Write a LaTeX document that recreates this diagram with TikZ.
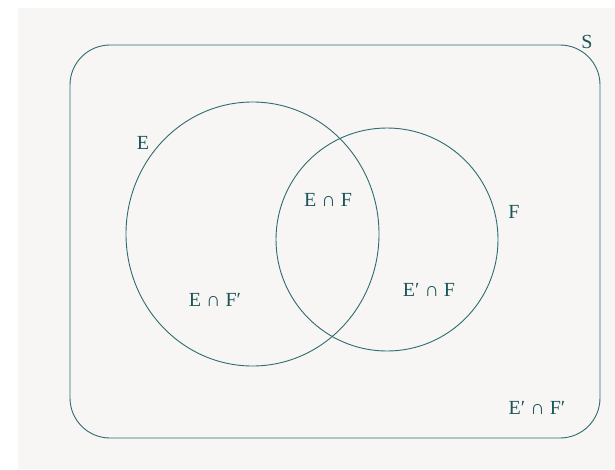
\documentclass[tikz,border=0pt]{standalone}
\usepackage{fontspec}
\setmainfont{Liberation Serif}
\usetikzlibrary{shapes.geometric}
\definecolor{bg}{HTML}{F8F6F4}
\definecolor{ln}{HTML}{2E6C70}
\definecolor{tx}{HTML}{1A555B}
\begin{document}
\begin{tikzpicture}[x=1pt,y=-1pt,
  shapeline/.style={draw=ln,line width=0.9pt},
  lbl/.style={text=tx,font=\fontsize{20}{22}\selectfont,inner sep=0pt}]
\useasboundingbox (0,0) rectangle (615,469);
\fill[bg] (18,8) rectangle (615,469);
\draw[shapeline,rounded corners=40pt] (70,45) rectangle (600,438);
\node[shapeline,ellipse,minimum width=253pt,minimum height=264pt,inner sep=0pt] (E) at (252.5,234) {};
\node[shapeline,ellipse,minimum width=222pt,minimum height=223pt,inner sep=0pt] (F) at (387,239.5) {};
\node[lbl] (S) at (587,42) {S};
\node[lbl] (Elbl) at (143,143) {E};
\node[lbl] (Flbl) at (514,212) {F};
\node[lbl] (EF) at (328,200) {E ∩ F};
\node[lbl] (EFp) at (215,300) {E ∩ F′};
\node[lbl] (EpF) at (429,290) {E′ ∩ F};
\node[lbl] (EpFp) at (537,408) {E′ ∩ F′};
\end{tikzpicture}
\end{document}
